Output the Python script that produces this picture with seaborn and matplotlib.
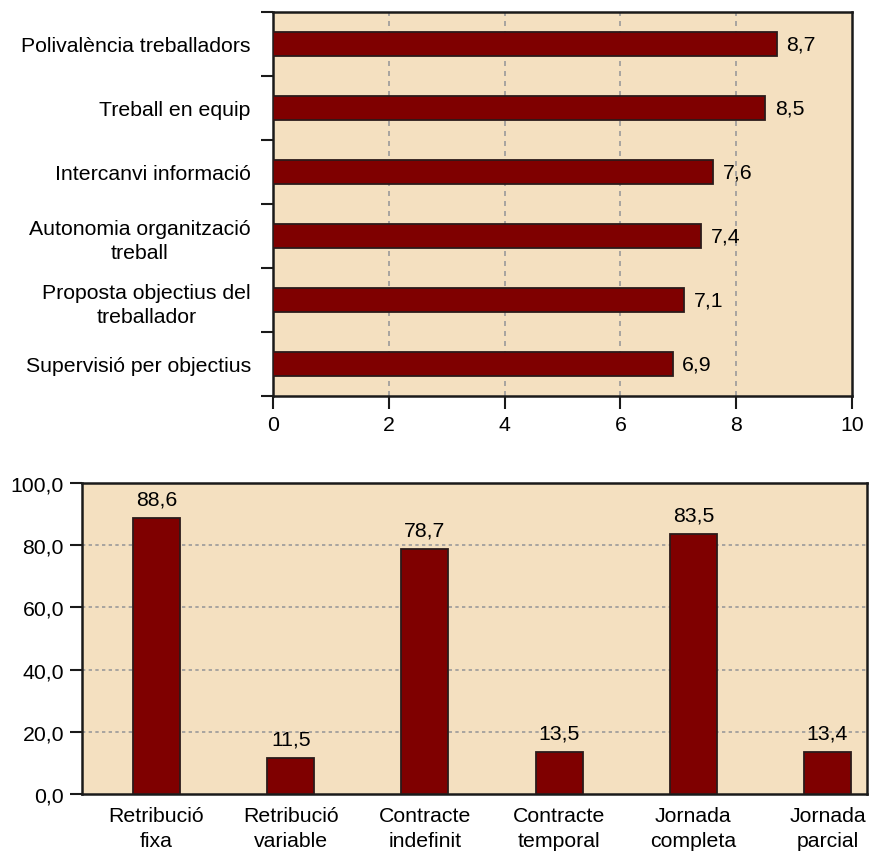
import matplotlib
matplotlib.use("Agg")
import matplotlib.pyplot as plt
import seaborn as sns
import pandas as pd
from matplotlib.ticker import FuncFormatter

# ---- data ----
top_categories = [
    "Polivalència treballadors",
    "Treball en equip",
    "Intercanvi informació",
    "Autonomia organització\ntreball",
    "Proposta objectius del\ntreballador",
    "Supervisió per objectius",
]
top_values = [8.7, 8.5, 7.6, 7.4, 7.1, 6.9]
top_ticks = [0, 2, 4, 6, 8, 10]

bottom_categories = [
    "Retribució\nfixa",
    "Retribució\nvariable",
    "Contracte\nindefinit",
    "Contracte\ntemporal",
    "Jornada\ncompleta",
    "Jornada\nparcial",
]
bottom_values = [88.6, 11.5, 78.7, 13.5, 83.5, 13.4]
bottom_ticks = [0, 20, 40, 60, 80, 100]

BG = "#F4E0C0"
BAR = "#7F0000"
EDGE = "#2B1A1A"
GRID = "#9A9A9A"
SPINE = "#1A1A1A"
FS = 15.3

sns.set_theme(style="white")
plt.rcParams["font.family"] = ["Liberation Sans", "DejaVu Sans"]

fig = plt.figure(figsize=(8.71, 8.54), dpi=100)
fig.patch.set_facecolor("white")

def comma(v, decimals):
    return f"{v:.{decimals}f}".replace(".", ",")

# ---------------- top chart ----------------
ax1 = fig.add_axes([273 / 871, 1 - 397 / 854, 579 / 871, 384 / 854])
df_top = pd.DataFrame({"cat": top_categories, "val": top_values})
sns.barplot(data=df_top, x="val", y="cat", orient="h", color=BAR, saturation=1,
            edgecolor=EDGE, linewidth=1.3, width=0.39, ax=ax1, zorder=3)
ax1.set_facecolor(BG)
ax1.set_xlim(0, 10)
ax1.set_ylim(len(top_categories) - 0.5, -0.5)
ax1.set_xticks(top_ticks)
ax1.xaxis.set_major_formatter(FuncFormatter(lambda v, p: f"{v:.0f}"))
ax1.set_yticks([i - 0.5 for i in range(len(top_categories) + 1)], minor=False)
ax1.set_yticklabels([])
ax1.set_yticks(range(len(top_categories)), minor=True)
ax1.set_yticklabels(top_categories, minor=True)
ax1.tick_params(axis="y", which="major", length=9, width=1.5, color=SPINE, left=True)
ax1.tick_params(axis="y", which="minor", length=0, pad=16, labelsize=FS, colors="black")
for lab in ax1.get_yticklabels(minor=True):
    lab.set_multialignment("center")
    lab.set_linespacing(1.35)
ax1.tick_params(axis="x", length=9, width=1.5, color=SPINE, bottom=True, pad=5,
                labelsize=FS, labelcolor="black")
ax1.set_xlabel("")
ax1.set_ylabel("")
for v in [2, 4, 6, 8]:
    ax1.axvline(v, color=GRID, linestyle=(0, (3, 3)), linewidth=1.2, zorder=1)
for s in ax1.spines.values():
    s.set_visible(True)
    s.set_color(SPINE)
    s.set_linewidth(1.8)
for i, v in enumerate(top_values):
    ax1.text(v + 0.17, i, comma(v, 1), va="center", ha="left", fontsize=FS, color="black")

# ---------------- bottom chart ----------------
ax2 = fig.add_axes([82 / 871, 1 - 795 / 854, 785 / 871, 311 / 854])
df_bot = pd.DataFrame({"cat": bottom_categories, "val": bottom_values})
sns.barplot(data=df_bot, x="cat", y="val", color=BAR, saturation=1,
            edgecolor=EDGE, linewidth=1.3, width=0.35, ax=ax2, zorder=3)
ax2.set_facecolor(BG)
ax2.set_ylim(0, 100)
ax2.set_xlim(-0.555, 5.294)
ax2.set_yticks(bottom_ticks)
ax2.yaxis.set_major_formatter(FuncFormatter(lambda v, p: comma(v, 1)))
ax2.tick_params(axis="y", length=9, width=1.5, color=SPINE, left=True, pad=4,
                labelsize=FS, labelcolor="black")
ax2.tick_params(axis="x", length=0, pad=9, labelsize=FS, labelcolor="black")
for lab in ax2.get_xticklabels():
    lab.set_linespacing(1.35)
ax2.set_xlabel("")
ax2.set_ylabel("")
for v in [20, 40, 60, 80]:
    ax2.axhline(v, color=GRID, linestyle=(0, (2, 2)), linewidth=1.2, zorder=1)
for s in ax2.spines.values():
    s.set_visible(True)
    s.set_color(SPINE)
    s.set_linewidth(1.8)
for i, v in enumerate(bottom_values):
    ax2.annotate(comma(v, 1), (i, v), xytext=(0, 7), textcoords="offset points",
                 ha="center", va="bottom", fontsize=FS, color="black")

fig.savefig("out.png", dpi=100, facecolor="white")
